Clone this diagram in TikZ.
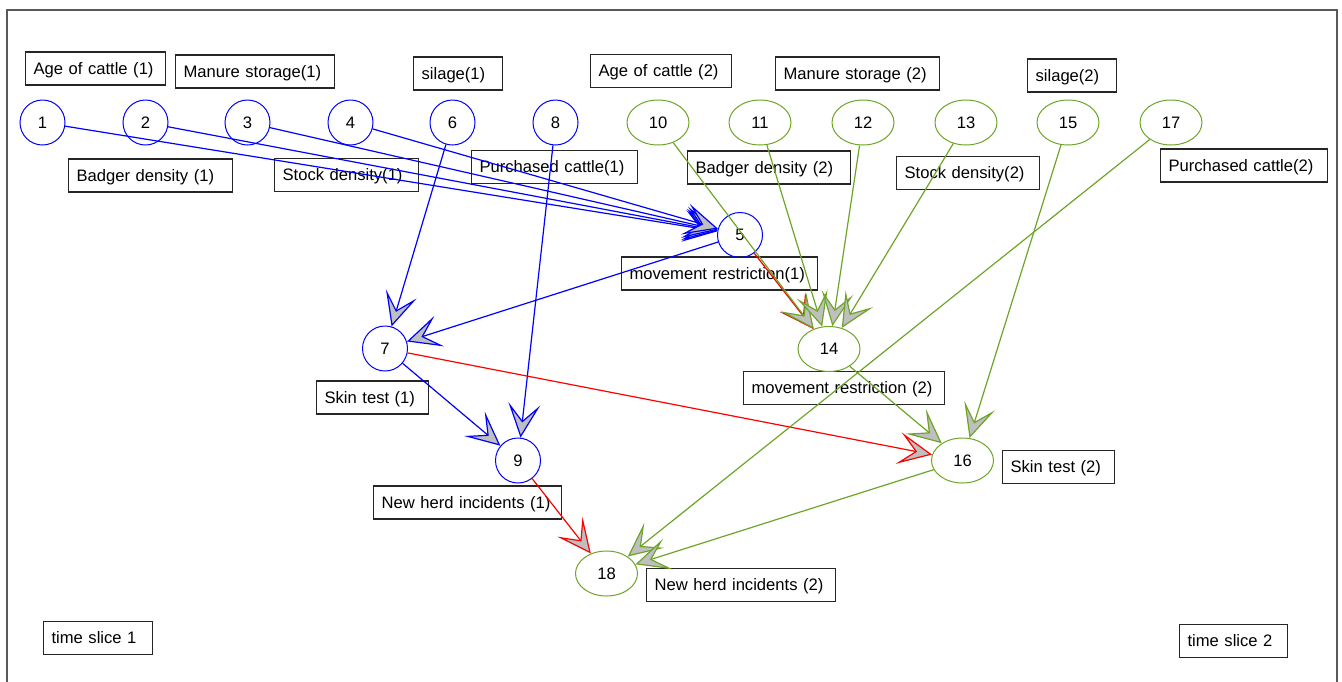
\documentclass[tikz,border=0pt]{standalone}
\usepackage{fontspec}
\setmainfont{Liberation Sans}
\usetikzlibrary{arrows.meta,shapes.geometric}
\definecolor{grn}{RGB}{110,165,40}
\begin{document}
\begin{tikzpicture}[x=1pt,y=-1pt,font=\fontsize{16.6}{20}\selectfont,
  bn/.style={circle,draw=blue,line width=1pt,minimum size=45pt,inner sep=0pt},
  gn/.style={ellipse,draw=grn,line width=1pt,minimum width=62pt,minimum height=45pt,inner sep=0pt},
  lbl/.style={draw=black!85,line width=1.2pt,anchor=west,minimum height=33pt,inner xsep=8pt,inner ysep=0pt,align=left,text width=#1-16pt,text height=11.5pt,text depth=0.5pt},
  arr/.style={line width=1.2pt,-{Stealth[length=34pt,width=32pt,inset=17pt,fill=black!25]}},
  be/.style={arr,draw=blue},
  re/.style={arr,draw=red},
  ge/.style={arr,draw=grn}]
\useasboundingbox (0,0) rectangle (1342,681);
\clip (0,0) rectangle (1342,681);
\draw[black!65,line width=1.5pt] (7,10) rectangle (1337,700);

% labels
\node[lbl=140] (l1) at (25,68.5) {Age of cattle (1)};
\node[lbl=159] (l2) at (175,71.5) {Manure storage(1)};
\node[lbl=89] (l3) at (413,73.5) {silage(1)};
\node[lbl=141] (l4) at (590,71) {Age of cattle (2)};
\node[lbl=164] (l5) at (775,73.5) {Manure storage (2)};
\node[lbl=89] (l6) at (1027,75.5) {silage(2)};
\node[lbl=164] (l7) at (68,175.5) {Badger density (1)};
\node[lbl=144] (l8) at (274,175) {Stock density(1)};
\node[lbl=166] (l9) at (471,167) {Purchased cattle(1)};
\node[lbl=163] (l10) at (687,167.5) {Badger density (2)};
\node[lbl=143] (l11) at (896,173) {Stock density(2)};
\node[lbl=167] (l12) at (1160,165.5) {Purchased cattle(2)};
\node[lbl=196] (l13) at (621,273.5) {movement restriction(1)};
\node[lbl=201] (l14) at (743,388) {movement restriction (2)};
\node[lbl=112] (l15) at (316,397.5) {Skin test (1)};
\node[lbl=112] (l16) at (1002,467) {Skin test (2)};
\node[lbl=188] (l17) at (373,502.5) {New herd incidents (1)};
\node[lbl=189] (l18) at (646,585) {New herd incidents (2)};
\node[lbl=109] (l19) at (43,638) {time slice 1};
\node[lbl=108] (l20) at (1179,641) {time slice 2};

% nodes
\node[bn] (n1) at (42.5,122.5) {1};
\node[bn] (n2) at (145.5,122.5) {2};
\node[bn] (n3) at (247.5,122.5) {3};
\node[bn] (n4) at (350.5,122.5) {4};
\node[bn] (n6) at (452.5,122.5) {6};
\node[bn] (n8) at (555.5,122.5) {8};
\node[gn] (n10) at (658,122.5) {10};
\node[gn] (n11) at (760,122.5) {11};
\node[gn] (n12) at (863,122.5) {12};
\node[gn] (n13) at (966,122.5) {13};
\node[gn] (n15) at (1068,122.5) {15};
\node[gn] (n17) at (1171,122.5) {17};
\node[bn] (n5) at (740,235) {5};
\node[gn] (n14) at (829,349) {14};
\node[bn] (n7) at (385,348.5) {7};
\node[bn] (n9) at (518,460.5) {9};
\node[gn] (n16) at (962.5,460.5) {16};
\node[gn] (n18) at (606.5,573.5) {18};

% edges
\draw[be] (n1) -- (n5);
\draw[be] (n2) -- (n5);
\draw[be] (n3) -- (n5);
\draw[be] (n4) -- (n5);
\draw[be] (n6) -- (n7);
\draw[be] (n8) -- (n9);
\draw[be] (n5) -- (n7);
\draw[be] (n7) -- (n9);
\draw[re] (n5) -- (n14);
\draw[re] (n7) -- (n16);
\draw[re] (n9) -- (n18);
\draw[ge] (n10) -- (n14);
\draw[ge] (n11) -- (n14);
\draw[ge] (n12) -- (n14);
\draw[ge] (n13) -- (n14);
\draw[ge] (n14) -- (n16);
\draw[ge] (n15) -- (n16);
\draw[ge] (n17) -- (n18);
\draw[ge] (n16) -- (n18);
\end{tikzpicture}
\end{document}
